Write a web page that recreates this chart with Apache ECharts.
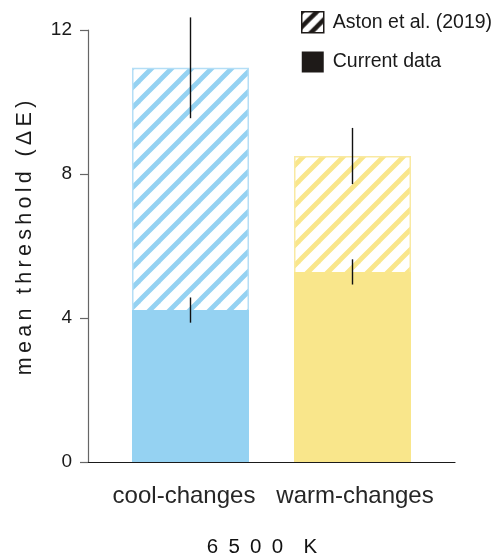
<!DOCTYPE html>
<html>
<head>
<meta charset="utf-8">
<script src="https://cdn.jsdelivr.net/npm/echarts@6/dist/echarts.min.js"></script>
<style>
html,body{margin:0;padding:0;background:#fff;}
#chart{width:494px;height:557px;}
</style>
</head>
<body>
<div id="chart"></div>
<script>
// ---- data ----
var categories = ['cool-changes', 'warm-changes'];
var astonMean = [10.95, 8.5];
var astonErr = [1.4, 0.78];
var currentMean = [4.22, 5.28];
var currentErr = [0.35, 0.35];
var yTicks = [0, 4, 8, 12];
var legendNames = ['Aston et al. (2019)', 'Current data'];
var yName = 'mean threshold (ΔE)';
var xName = '6500 K';

// ---- styling ----
var fillColors = ['#95d2f2', '#f9e68b'];
var borderColors = ['#b4def6', '#f9e9a2'];
var FONT = 'Liberation Sans, Arial, Helvetica, sans-serif';

function makeStripes(color, period, width) {
  var c = document.createElement('canvas');
  c.width = period; c.height = period;
  var ctx = c.getContext('2d');
  ctx.fillStyle = '#ffffff';
  ctx.fillRect(0, 0, period, period);
  ctx.strokeStyle = color;
  ctx.lineWidth = width;
  ctx.lineCap = 'square';
  for (var k = -period; k <= period; k += period) {
    ctx.beginPath();
    ctx.moveTo(k - 2, period + 2);
    ctx.lineTo(k + period + 2, -2);
    ctx.stroke();
  }
  return c;
}
var stripeImgs = fillColors.map(function (c) { return makeStripes(c, 20, 4.8); });
var blackStripe = makeStripes('#1e1a18', 15, 4.5);

function spaced(s, sep) { return s.split('').join(sep); }

var chart = echarts.init(document.getElementById('chart'), null, {renderer: 'canvas'});

function errBar(means, errs) {
  return means.map(function (m, i) { return [i, m - errs[i], m + errs[i]]; });
}
function renderErr(params, api) {
  var lo = api.coord([api.value(0), api.value(1)]);
  var hi = api.coord([api.value(0), api.value(2)]);
  return {
    type: 'line',
    shape: {x1: lo[0], y1: lo[1], x2: hi[0], y2: hi[1]},
    style: {stroke: '#111111', lineWidth: 1.4}
  };
}

var xNameParts = xName.split(' ');
var option = {
  backgroundColor: '#ffffff',
  animation: false,
  title: {
    text: spaced(xNameParts[0], '\u2002') + '\u2002\u2002' + xNameParts[1],
    left: 257, top: 532, textAlign: 'center',
    textStyle: {fontFamily: FONT, fontSize: 20.5, fontWeight: 'normal', color: '#111'}
  },
  legend: {
    orient: 'vertical',
    left: 296, top: 6,
    itemWidth: 22, itemHeight: 21, itemGap: 18,
    icon: 'rect',
    textStyle: {fontFamily: FONT, fontSize: 19.5, color: '#1a1a1a', padding: [0, 0, 0, 4]},
    data: [
      {name: legendNames[0], itemStyle: {color: {image: blackStripe, repeat: 'repeat'}, borderColor: '#1e1a18', borderWidth: 1.5}},
      {name: legendNames[1], itemStyle: {color: '#1e1a18', borderWidth: 0}}
    ]
  },
  grid: [
    {left: 88, right: 39, top: 30, bottom: 95},
    {left: 109.5, right: 60.5, top: 30, bottom: 95}
  ],
  xAxis: [
    {
      type: 'value', gridIndex: 0, min: 0, max: 1,
      axisLine: {show: true, lineStyle: {color: '#1a1a1a', width: 1.2}},
      axisTick: {show: false}, axisLabel: {show: false}, splitLine: {show: false}
    },
    {
      type: 'category', gridIndex: 1, data: categories,
      axisLine: {show: false}, axisTick: {show: false}, splitLine: {show: false},
      axisLabel: {
        interval: 0, hideOverlap: false,
        margin: 22,
        fontFamily: FONT, fontSize: 24, color: '#262626',
        formatter: function (v, i) { return (i === 0 ? '{a|' : '{b|') + v + '}'; },
        rich: {
          a: {fontFamily: FONT, fontSize: 24, color: '#262626', padding: [0, 13, 0, 0]},
          b: {fontFamily: FONT, fontSize: 24, color: '#262626', padding: [0, 0, 0, 5]}
        }
      }
    }
  ],
  yAxis: [
    {
      type: 'value', gridIndex: 0, min: yTicks[0], max: yTicks[yTicks.length - 1], interval: 4,
      name: spaced(yName, '\u2009'),
      nameLocation: 'middle', nameGap: 52, nameRotate: 90,
      nameTextStyle: {fontFamily: FONT, fontSize: 21.5, color: '#1a1a1a', padding: [0, 0, 0, 16]},
      axisLine: {show: true, lineStyle: {color: '#666666', width: 1.2}},
      axisTick: {show: true, length: 8, lineStyle: {color: '#666666', width: 1.2}},
      axisLabel: {margin: 16, fontFamily: FONT, fontSize: 19, color: '#1a1a1a'},
      splitLine: {show: false}
    },
    {
      type: 'value', gridIndex: 1, min: yTicks[0], max: yTicks[yTicks.length - 1], show: false
    }
  ],
  series: [
    {
      name: legendNames[0], type: 'bar', xAxisIndex: 1, yAxisIndex: 1,
      barWidth: 117, barGap: '-100%', z: 2,
      itemStyle: {color: {image: blackStripe, repeat: 'repeat'}, borderColor: '#1e1a18', borderWidth: 1},
      data: astonMean.map(function (v, i) {
        return {value: v, itemStyle: {color: {image: stripeImgs[i], repeat: 'repeat'}, borderColor: borderColors[i], borderWidth: 1.5}};
      })
    },
    {
      name: legendNames[1], type: 'bar', xAxisIndex: 1, yAxisIndex: 1,
      barWidth: 117, barGap: '-100%', z: 3,
      itemStyle: {color: '#1e1a18'},
      data: currentMean.map(function (v, i) {
        return {value: v, itemStyle: {color: fillColors[i], borderWidth: 0}};
      })
    },
    {
      name: 'astonErr', type: 'custom', xAxisIndex: 1, yAxisIndex: 1, z: 5,
      renderItem: renderErr, data: errBar(astonMean, astonErr)
    },
    {
      name: 'currentErr', type: 'custom', xAxisIndex: 1, yAxisIndex: 1, z: 5,
      renderItem: renderErr, data: errBar(currentMean, currentErr)
    }
  ]
};
chart.setOption(option);
</script>
</body>
</html>
